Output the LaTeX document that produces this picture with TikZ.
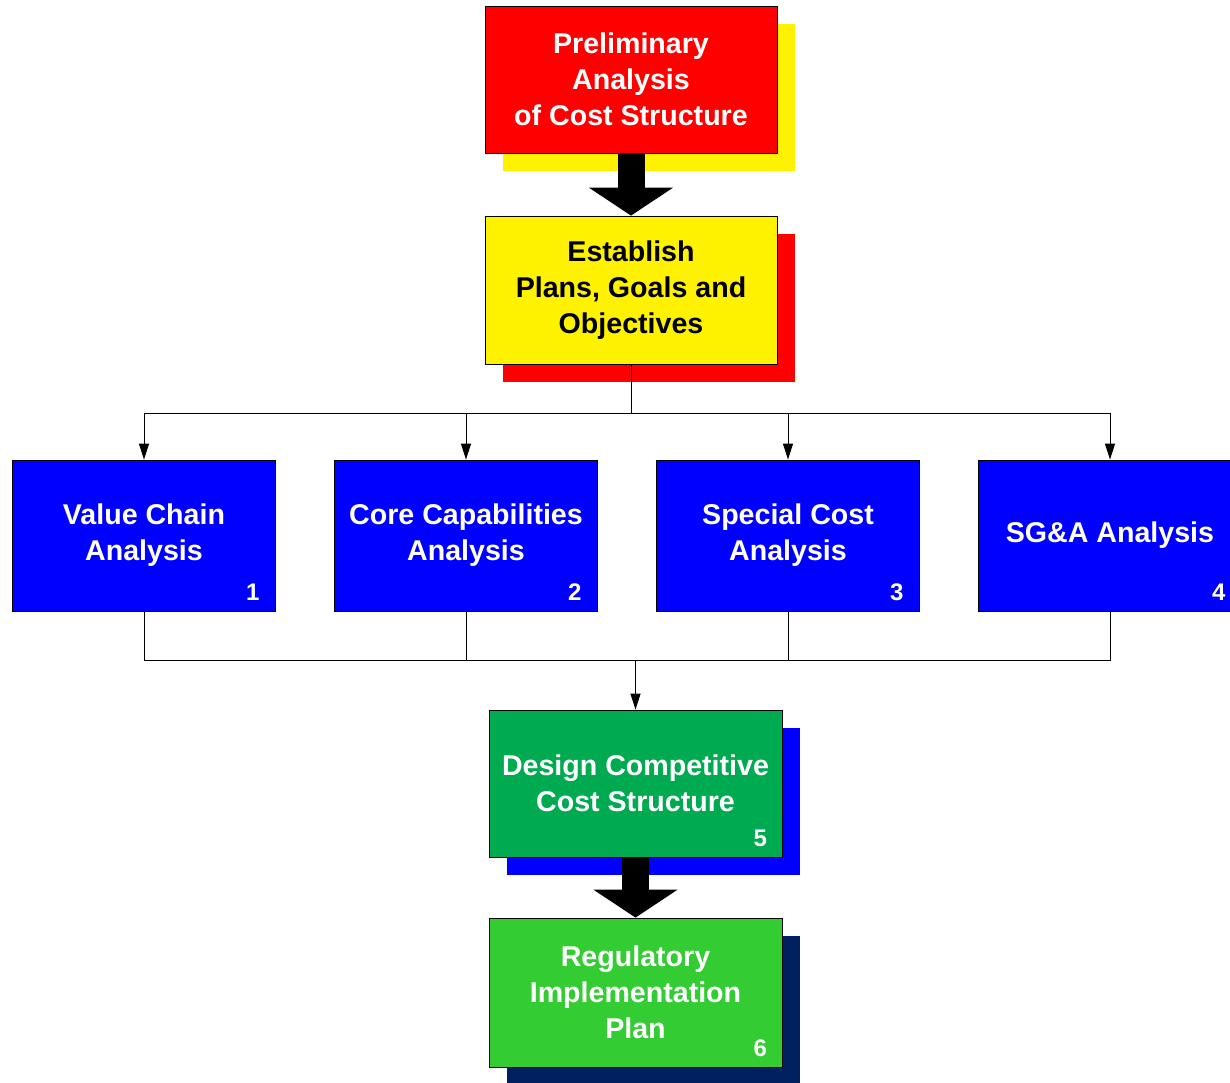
\documentclass[tikz,border=0pt]{standalone}
\usepackage{fontspec}
\setmainfont{Liberation Sans}
\usetikzlibrary{arrows.meta,shadows,positioning,calc}
\definecolor{dgreen}{RGB}{0,170,80}
\definecolor{lgreen}{RGB}{51,204,51}
\definecolor{navy}{RGB}{0,32,96}
\tikzset{
  basic/.style   = {draw, line width=0.8pt, inner sep=0pt, align=center, rectangle,
                    font=\fontsize{28.6}{36}\selectfont\bfseries},
  redbox/.style  = {basic, fill=red, text=white, minimum width=292pt, minimum height=147pt,
                    drop shadow={shadow xshift=17.5pt, shadow yshift=-17.5pt, fill=yellow, opacity=1, draw=none}},
  yelbox/.style  = {basic, fill=yellow, text=black, minimum width=292pt, minimum height=148pt,
                    drop shadow={shadow xshift=17.5pt, shadow yshift=-17.5pt, fill=red, opacity=1, draw=none}},
  bluebox/.style = {basic, fill=blue, text=white, minimum width=263pt, minimum height=151pt},
  grnbox1/.style = {basic, fill=dgreen, text=white, minimum width=293pt, minimum height=147pt,
                    drop shadow={shadow xshift=17.5pt, shadow yshift=-17.5pt, fill=blue, opacity=1, draw=none}},
  grnbox2/.style = {basic, fill=lgreen, text=white, minimum width=293pt, minimum height=149pt,
                    drop shadow={shadow xshift=17.5pt, shadow yshift=-17.5pt, fill=navy, opacity=1, draw=none}},
  num/.style     = {inner sep=0pt, text=white, anchor=base east, font=\fontsize{24}{24}\selectfont\bfseries},
  bigarrow/.style = {line width=27pt, -{Triangle[width=83pt,length=28pt]}}
}

\begin{document}
\begin{tikzpicture}[x=1pt, y=-1pt, >={Triangle[width=10pt,length=16pt]}, line width=1pt]
  \useasboundingbox (0,0) rectangle (1230,1082);

% top of the chart
  \node[redbox] (prelim) at (631,79.5) {Preliminary\\Analysis\\of Cost Structure};
  \node[yelbox] (plans) at (631,290) {Establish\\Plans, Goals and\\Objectives};
  \draw[bigarrow] (prelim.south) -- (plans.north);

% the four analyses
  \begin{scope}[every node/.style={bluebox}]
    \node (c1) at (144,535.5) {Value Chain\\Analysis};
    \node (c2) at (466,535.5) {Core Capabilities\\Analysis};
    \node (c3) at (788,535.5) {Special Cost\\Analysis};
    \node (c4) at (1110,535.5) {SG\&A Analysis};
  \end{scope}
  \foreach \value in {1,...,4}
    \node[num] (n\value) at ([xshift=-16pt,yshift=11pt]c\value.south east) {\value};

% bottom of the chart
  \node[grnbox1] (design) at (635.5,783.5) {Design Competitive\\Cost Structure};
  \node[grnbox2] (regplan) at (635.5,992.5) {Regulatory\\Implementation\\Plan};
  \node[num] (n5) at ([xshift=-15pt,yshift=10.5pt]design.south east) {5};
  \node[num] (n6) at ([xshift=-15pt,yshift=10.5pt]regplan.south east) {6};
  \draw[bigarrow] (design.south) -- (regplan.north);

% lines between the levels
  \coordinate (split) at (631,413);
  \coordinate (merge) at (635.5,660);
  \draw (plans.south) -- (split);
  \foreach \value in {1,...,4}
    \draw[->] (split) -| (c\value.north);
  \foreach \value in {1,...,4}
    \draw (c\value.south) |- (merge);
  \draw[->] (merge) -- (design.north);
\end{tikzpicture}
\end{document}
